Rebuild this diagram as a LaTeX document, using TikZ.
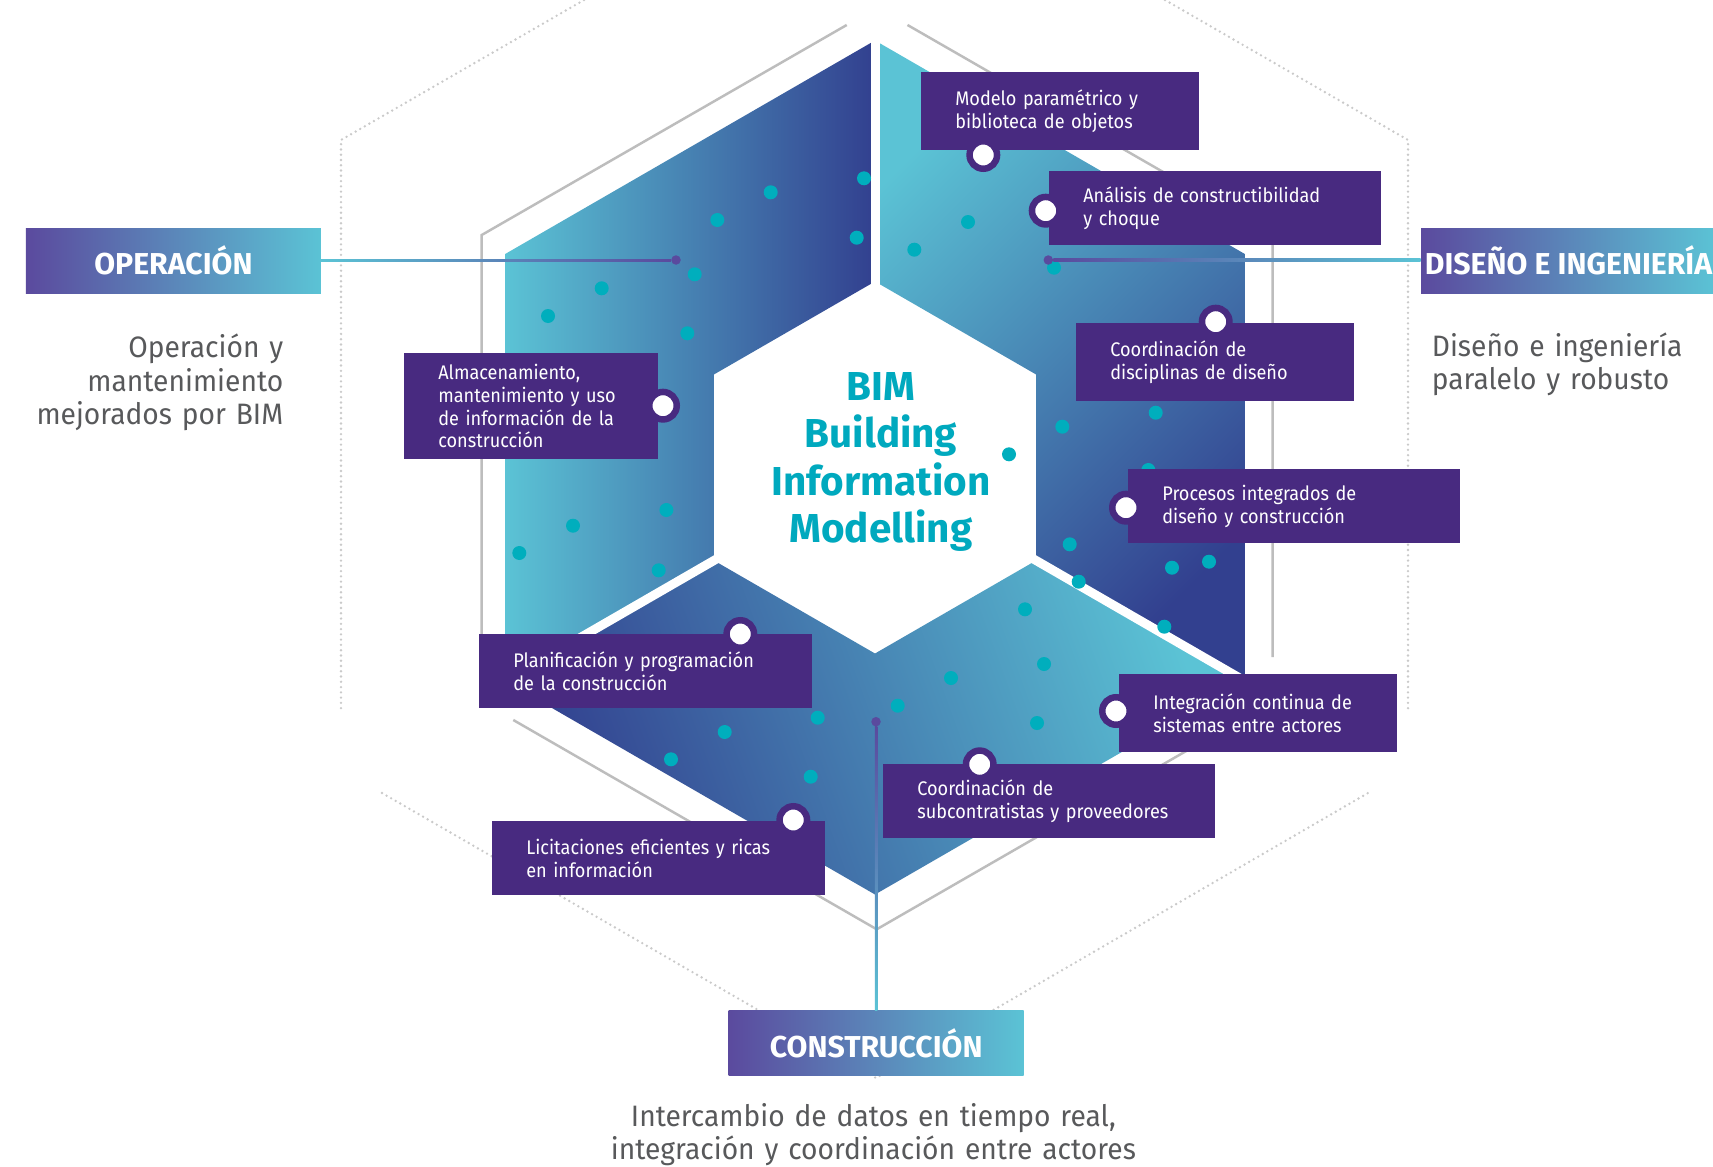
\documentclass[tikz,border=0pt]{standalone}
\usepackage{fontspec}
\setmainfont{Fira Sans}
\newfontfamily\bimitemfam{Fira Sans}[FakeStretch=0.92]
\newfontfamily\bimdescfam{Fira Sans}[FakeStretch=0.955]
\usetikzlibrary{calc}

\hyphenpenalty=10000
\exhyphenpenalty=10000

\definecolor{bimlight}{HTML}{5BC3D5}
\definecolor{bimdark}{HTML}{32408F}
\definecolor{bimpurple}{HTML}{482A80}
\definecolor{bimteal}{HTML}{00AEBD}
\definecolor{catpurple}{HTML}{5B4A9E}
\definecolor{catcyan}{HTML}{5BC3D5}
\definecolor{lnpurple}{HTML}{5A4A9E}
\definecolor{hexgray}{HTML}{BDBDBD}
\definecolor{dotgray}{HTML}{CACACA}
\definecolor{descgray}{HTML}{58595B}
\definecolor{headteal}{HTML}{00A9BE}

\newcommand\bimitemfont{\bimitemfam\fontsize{11.2}{12.9}\selectfont}
\newcommand\bimheadfont{\fontsize{23}{27.1}\selectfont\bfseries}
\newcommand\bimcatfont{\fontsize{17.2}{19}\selectfont\bfseries}
\newcommand\bimdescfont{\bimdescfam\fontsize{16.8}{19}\selectfont}

\begin{document}
\begin{tikzpicture}[x=0.02cm, y=-0.02cm,
    hexline/.style={draw=hexgray, line width=1.4pt},
    dotline/.style={draw=dotgray, line width=1.5pt, line cap=round, dash pattern=on 0pt off 3pt},
    gapline/.style={draw=white, line width=0.18cm}]

      \fill[white] (0,0) rectangle (1713,1166);
      \useasboundingbox (0,0) rectangle (1713,1166);

      % frames behind the hexagon
      \draw[dotline] (584,0) -- (341,140) -- (341,709);
      \draw[dotline] (1165,0) -- (1408,140) -- (1408,709);
      \draw[dotline] (382,793) -- (876,1078) -- (1368,793);

      \draw[hexline] (846.7,25) -- (481.7,235) -- (481.7,657);
      \draw[hexline] (907.5,25) -- (1272.7,235) -- (1272.7,657);
      \draw[hexline] (513.3,720) -- (876.7,929.3) -- (1240,720);

      % outer and inner corners
      \coordinate (oT)  at (875,40.5);
      \coordinate (oUL) at (505.2,254);
      \coordinate (oLL) at (505.2,681);
      \coordinate (oB)  at (875,894.5);
      \coordinate (oLR) at (1244.8,681);
      \coordinate (oUR) at (1244.8,254);
      \coordinate (it)  at (875,281.5);
      \coordinate (iul) at (713.9,374.5);
      \coordinate (ill) at (713.9,560.5);
      \coordinate (ib)  at (875,653.5);
      \coordinate (ilr) at (1036.1,560.5);
      \coordinate (iur) at (1036.1,374.5);

      \shade[left color=bimlight, right color=bimdark]
        (oT) -- (oUL) -- (oLL) -- (ill) -- (iul) -- (it) -- cycle;
      \shade[left color=bimlight, right color=bimdark, shading angle=45]
        (oT) -- (oUR) -- (oLR) -- (ilr) -- (iur) -- (it) -- cycle;
      \shade[left color=bimdark, right color=bimlight, shading angle=110]
        (oLL) -- (oB) -- (oLR) -- (ilr) -- (ib) -- (ill) -- cycle;

      \draw[gapline] ($(oT)+(0,-12)$) -- ($(it)+(0,10)$);
      \draw[gapline] ($(ill)!-0.06!(oLL)$) -- ($(ill)!1.06!(oLL)$);
      \draw[gapline] ($(ilr)!-0.06!(oLR)$) -- ($(ilr)!1.06!(oLR)$);

      \begin{scope}[every node/.style={circle, fill=bimteal, minimum size=0.28cm, inner sep=0pt}]
        \node (d1)  at (864,178.3)   {};
        \node (d2)  at (770.7,192.3) {};
        \node (d3)  at (717.3,220)   {};
        \node (d4)  at (856.7,237.7) {};
        \node (d5)  at (694.7,274.3) {};
        \node (d6)  at (601.7,288.3) {};
        \node (d7)  at (548,316)     {};
        \node (d8)  at (687.3,333.3) {};
        \node (d9)  at (666.4,510)   {};
        \node (d10) at (573,525.7)   {};
        \node (d11) at (519.3,553)   {};
        \node (d12) at (658.7,570.3) {};
        \node (d13) at (968,222)     {};
        \node (d14) at (914.3,249.7) {};
        \node (d15) at (1054,267.7)  {};
        \node (d16) at (1155.7,412.7) {};
        \node (d17) at (1062.3,426.7) {};
        \node (d18) at (1148.3,470)  {};
        \node (d19) at (1069.7,544.3) {};
        \node (d20) at (1209,561.7)  {};
        \node (d21) at (1172,567.7)  {};
        \node (d22) at (1078.7,581.7) {};
        \node (d23) at (1009,454.3)  {};
        \node (d24) at (1025,609.3)  {};
        \node (d25) at (1164.3,626.7) {};
        \node (d26) at (1044,664)    {};
        \node (d27) at (951,678)     {};
        \node (d28) at (897.7,705.7) {};
        \node (d29) at (1037,723)    {};
        \node (d30) at (817.7,717.7) {};
        \node (d31) at (724.7,732)   {};
        \node (d32) at (671,759.3)   {};
        \node (d33) at (810.7,776.7) {};
      \end{scope}

      \begin{scope}[every node/.style={left color=catpurple, right color=catcyan, text=white,
          font=\bimcatfont, minimum width=5.9cm, minimum height=1.3cm, inner sep=0pt}]
        \node (opbox)  at (173.4,260.6)  {OPERACIÓN};
        \node (disbox) at (1568.5,260.6) {DISEÑO E INGENIERÍA};
        \node (conbox) at (876.2,1042.9) {CONSTRUCCIÓN};
      \end{scope}

      \begin{scope}[every node/.style={circle, fill=lnpurple, minimum size=0.19cm, inner sep=0pt}]
        \node (opdot)  at (676,260)    {};
        \node (disdot) at (1048.3,260) {};
        \node (condot) at (876,721.7)  {};
      \end{scope}

      \shade[left color=catcyan, right color=lnpurple]
        ($(opbox.east)+(0,-1.1)$) rectangle ($(opdot.west)+(0,1.1)$);
      \shade[left color=lnpurple, right color=catcyan]
        ($(disdot.east)+(0,-1.1)$) rectangle ($(disbox.west)+(0,1.1)$);
      \shade[top color=lnpurple, bottom color=catcyan]
        ($(condot.south)+(-1.1,0)$) rectangle ($(conbox.north)+(1.1,0)$);

      \begin{scope}[every node/.style={fill=bimpurple, text=white, font=\bimitemfont,
          align=left, anchor=north west, inner xsep=0.68cm, inner ysep=0pt}]
        \node[text width=4.2cm,  minimum height=1.55cm] (m1) at (921,72)   {Modelo paramétrico y\\biblioteca de objetos};
        \node[text width=5.28cm, minimum height=1.48cm] (m2) at (1049,171) {Análisis de constructibilidad\\y choque};
        \node[text width=4.2cm,  minimum height=1.55cm] (m3) at (1076,323) {Coordinación de\\disciplinas de diseño};
        \node[text width=5.28cm, minimum height=1.48cm] (m4) at (1128,469) {Procesos integrados de\\diseño y construcción};
        \node[text width=4.2cm,  minimum height=1.55cm] (m5) at (1119,674) {Integración continua de\\sistemas entre actores};
        \node[text width=5.28cm, minimum height=1.48cm] (m6) at (883,764)  {Coordinación de\\subcontratistas y proveedores};
        \node[text width=5.3cm,  minimum height=1.48cm] (m7) at (492,821)  {Licitaciones eficientes y ricas\\en información};
        \node[text width=5.3cm,  minimum height=1.48cm] (m8) at (479,634)  {Planificación y programación\\de la construcción};
        \node[text width=3.72cm, minimum height=2.12cm] (m9) at (404,353)  {Almacenamiento,\\mantenimiento y uso\\de información de la\\construcción};
      \end{scope}

      \begin{scope}[every node/.style={circle, fill=white, draw=bimpurple, line width=0.13cm,
          minimum size=0.55cm, inner sep=0pt}]
        \node (k1) at (983.3,155)   {};
        \node (k2) at (1045.7,210.7) {};
        \node (k3) at (1215.7,321.7) {};
        \node (k4) at (1126,507.7)  {};
        \node (k5) at (1116,711)    {};
        \node (k6) at (979.7,764.3) {};
        \node (k7) at (793.3,820)   {};
        \node (k8) at (740.3,634)   {};
        \node (k9) at (663,405.7)   {};
      \end{scope}

      \begin{scope}[every node/.style={text=descgray, font=\bimdescfont, inner sep=0pt}]
        \node[text width=5.5cm, align=right, anchor=base east] (opdesc) at (283.6,357.8)
          {Operación y\\mantenimiento\\mejorados por BIM};
        \node[text width=5.5cm, align=left, anchor=base west] (disdesc) at (1431.5,356)
          {Diseño e ingeniería\\paralelo y robusto};
        \node[text width=11cm, align=center, anchor=base] (condesc) at (873.4,1126)
          {Intercambio de datos en tiempo real,\\integración y coordinación entre actores};
      \end{scope}

      \node[text=headteal, font=\bimheadfont, text width=6cm, align=center, anchor=base,
        inner sep=0pt] (bim) at (881,400) {BIM\\Building\\Information\\Modelling};

    \end{tikzpicture}
\end{document}
